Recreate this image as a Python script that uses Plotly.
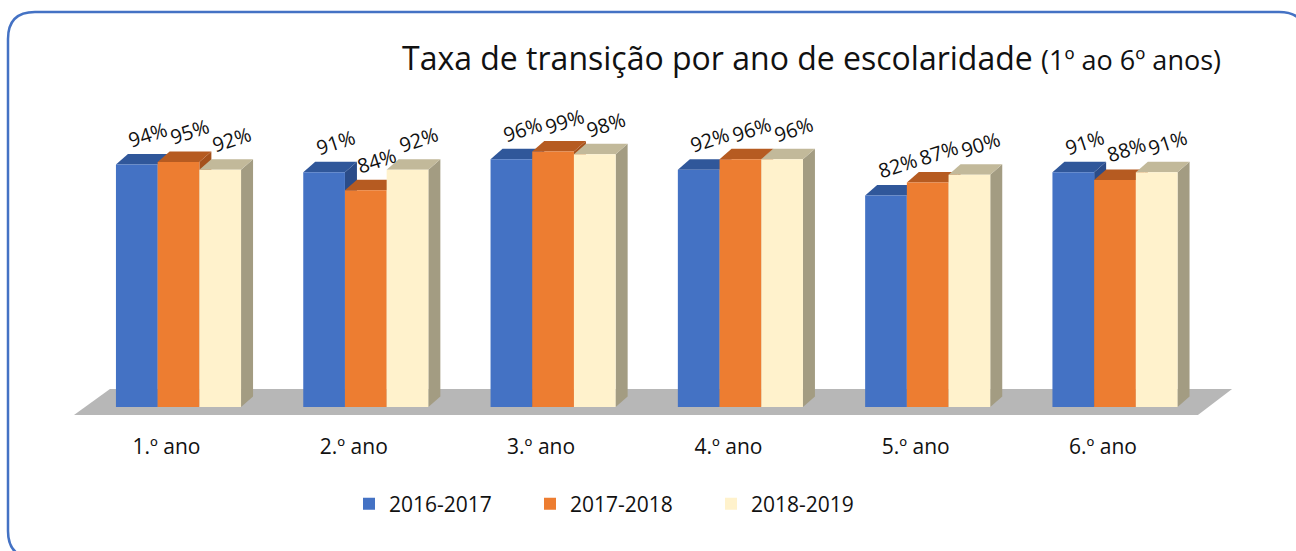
import plotly.graph_objects as go

# ---------------- data ----------------
categories = ["1.º ano", "2.º ano", "3.º ano", "4.º ano", "5.º ano", "6.º ano"]
series_names = ["2016-2017", "2017-2018", "2018-2019"]
v_2016_2017 = [94, 91, 96, 92, 82, 91]
v_2017_2018 = [95, 84, 99, 96, 87, 88]
v_2018_2019 = [92, 92, 98, 96, 90, 91]
series_values = [v_2016_2017, v_2017_2018, v_2018_2019]

title_main = "Taxa de transição por ano de escolaridade"
title_sub = "(1º ao 6º anos)"

# ---------------- styles ----------------
front_colors = ["#4472C4", "#ED7D31", "#FFF2CC"]
top_colors = ["#30579A", "#B65B21", "#C2B99A"]
side_colors = ["#2B4C89", "#A5511C", "#A39C82"]
floor_color = "#B7B7B7"
FONT = "Open Sans"
TXT = "#111111"

W, H = 1296, 551
ML, MR, MT, MB = 60, 46, 100, 119
PW, PH = W - ML - MR, H - MT - MB
PX_PER_CAT = 187.3
CAT0_PX = 178.5
ZERO_PX = 407.0
PX_PER_UNIT = 2.58

x0 = -(CAT0_PX - ML) / PX_PER_CAT
x1 = x0 + PW / PX_PER_CAT
y1 = (ZERO_PX - MT) / PX_PER_UNIT
y0 = -(MT + PH - ZERO_PX) / PX_PER_UNIT

BW = 41.7 / PX_PER_CAT          # bar width (category units)
DX = 12.0 / PX_PER_CAT          # depth offset x
DY = 10.5 / PX_PER_UNIT         # depth offset y


def xp(px):
    return (px - ML) / PW


def yp(py):
    return (MT + PH - py) / PH


fig = go.Figure()
shapes = []

# floor (decoration computed from category extent)
n = len(categories)
f_front_l, f_front_r = -0.5 - 0.058, n - 0.5 - 0.057
f_back_l, f_back_r = -0.5 + 0.134, n - 0.5 + 0.125
f_front_y, f_back_y = -3.1, 6.98
shapes.append(dict(
    type="path", xref="x", yref="y", layer="below",
    path=f"M{f_front_l},{f_front_y} L{f_front_r},{f_front_y} L{f_back_r},{f_back_y} L{f_back_l},{f_back_y} Z",
    fillcolor=floor_color, line=dict(width=0)))

# 3D side and top faces
for i in range(n):
    for j, vals in enumerate(series_values):
        v = vals[i]
        c = i + (j - 1) * BW
        L, R = c - BW / 2, c + BW / 2
        shapes.append(dict(
            type="path", xref="x", yref="y", layer="below",
            path=f"M{R},0 L{R+DX},{DY} L{R+DX},{v+DY} L{R},{v} Z",
            fillcolor=side_colors[j], line=dict(width=0)))
        shapes.append(dict(
            type="path", xref="x", yref="y", layer="below",
            path=f"M{L},{v} L{R},{v} L{R+DX},{v+DY} L{L+DX},{v+DY} Z",
            fillcolor=top_colors[j], line=dict(width=0)))

# front faces: real bars
annotations = []
for j, (name, vals) in enumerate(zip(series_names, series_values)):
    xs = [i + (j - 1) * BW for i in range(n)]
    fig.add_trace(go.Bar(
        x=xs, y=vals, width=BW, name=name,
        marker=dict(color=front_colors[j], line=dict(width=0)),
        hovertemplate=name + ": %{y}%<extra></extra>"))
    for x, v in zip(xs, vals):
        annotations.append(dict(
            x=x, y=v, xref="x", yref="y", text=f"{v}%", showarrow=False,
            xshift=11, yshift=30, textangle=-18,
            font=dict(family=FONT, size=20, color=TXT)))

# title
annotations.append(dict(
    xref="paper", yref="paper", x=xp(1223), y=yp(58), xanchor="right", yanchor="middle",
    showarrow=False,
    text=f"{title_main} <span style='font-size:27px'>{title_sub}</span>",
    font=dict(family=FONT, size=32, color=TXT)))

# rounded border
bl, bt, br, bb, r = 8, 12, 1306, 558, 27
border_path = (
    f"M{xp(bl)},{yp(bt + r)} Q{xp(bl)},{yp(bt)} {xp(bl + r)},{yp(bt)} "
    f"L{xp(br - r)},{yp(bt)} Q{xp(br)},{yp(bt)} {xp(br)},{yp(bt + r)} "
    f"L{xp(br)},{yp(bb - r)} Q{xp(br)},{yp(bb)} {xp(br - r)},{yp(bb)} "
    f"L{xp(bl + r)},{yp(bb)} Q{xp(bl)},{yp(bb)} {xp(bl)},{yp(bb - r)} Z")
shapes.append(dict(type="path", xref="paper", yref="paper", layer="above",
                   path=border_path, line=dict(color="#4472C4", width=2.5),
                   fillcolor="rgba(0,0,0,0)"))

fig.update_layout(
    width=W, height=H,
    margin=dict(l=ML, r=MR, t=MT, b=MB),
    paper_bgcolor="white", plot_bgcolor="rgba(0,0,0,0)",
    barmode="overlay",
    showlegend=True,
    legend=dict(orientation="h", x=xp(349), xanchor="left", y=yp(504), yanchor="middle",
                font=dict(family=FONT, size=21, color=TXT),
                entrywidth=136, entrywidthmode="pixels",
                itemclick=False, itemdoubleclick=False),
    xaxis=dict(range=[x0, x1], tickvals=list(range(n)), ticktext=categories,
               showgrid=False, zeroline=False, showline=False, ticks="",
               ticklabelshift=-12,
               tickfont=dict(family=FONT, size=21, color=TXT), fixedrange=True),
    yaxis=dict(range=[y0, y1], showgrid=False, zeroline=False, showline=False,
               showticklabels=False, ticks="", fixedrange=True),
    shapes=shapes,
    annotations=annotations,
    font=dict(family=FONT, color=TXT),
)

fig.write_html("out.html", config={"displayModeBar": False},
               post_script="document.body.style.margin='0';document.body.style.overflow='hidden';")
